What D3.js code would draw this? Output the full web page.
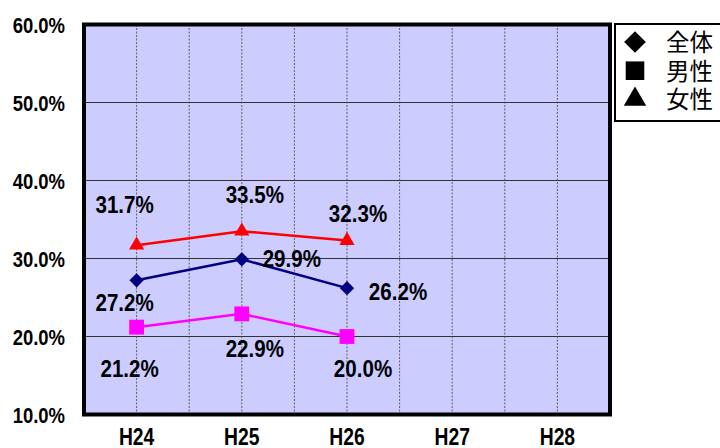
<!DOCTYPE html>
<html>
<head>
<meta charset="utf-8">
<script src="https://cdn.jsdelivr.net/npm/d3@7"></script>
<style>
  body { margin: 0; background: #ffffff; }
  svg { display: block; }
</style>
</head>
<body>
<div id="chart"></div>
<script>
// Data
const years = ["H24", "H25", "H26", "H27", "H28"];
const yTicks = [10, 20, 30, 40, 50, 60];
const totalValues = [27.2, 29.9, 26.2];
const maleValues = [21.2, 22.9, 20.0];
const femaleValues = [31.7, 33.5, 32.3];
const legendLabels = ["全体", "男性", "女性"];

// Label placement relative to each point (layout only)
const totalLabelOffsets = [[-12, 31], [50, 8], [51, 12]];
const maleLabelOffsets = [[-7, 50], [13, 43], [16, 40]];
const femaleLabelOffsets = [[-12, -32], [13, -28], [11, -19]];

const W = 720, H = 448;
const plot = {left: 84, right: 610, top: 24.5, bottom: 414.5};
const labelFont = "'Liberation Sans', Arial, sans-serif";
const squeeze = 0.84;

const svg = d3.select("#chart")
    .append("svg")
    .attr("width", W)
    .attr("height", H);

// Scales
const x = d3.scaleBand()
    .domain(years)
    .range([plot.left, plot.right]);
const y = d3.scaleLinear()
    .domain([10, 60])
    .range([plot.bottom, plot.top]);
const cx = d => x(d) + x.bandwidth() / 2;

// Plot background
svg.append("rect")
    .attr("x", plot.left)
    .attr("y", plot.top)
    .attr("width", plot.right - plot.left)
    .attr("height", plot.bottom - plot.top)
    .attr("fill", "#ccccff");

// Horizontal grid lines
svg.append("g")
    .selectAll("line")
    .data(yTicks.slice(1, -1))
    .enter()
    .append("line")
    .attr("x1", plot.left)
    .attr("x2", plot.right)
    .attr("y1", d => y(d))
    .attr("y2", d => y(d))
    .attr("stroke", "#333333")
    .attr("stroke-width", 1);

// Vertical dashed grid lines at band centres and band edges
const vLines = [];
years.forEach((d, i) => {
    vLines.push(cx(d));
    if (i > 0) vLines.push(x(d));
});
svg.append("g")
    .selectAll("line")
    .data(vLines)
    .enter()
    .append("line")
    .attr("x1", d => d)
    .attr("x2", d => d)
    .attr("y1", plot.top)
    .attr("y2", plot.bottom)
    .attr("stroke", "#444444")
    .attr("stroke-width", 0.8)
    .attr("stroke-dasharray", "2,1.5");

// Plot border
svg.append("rect")
    .attr("x", plot.left)
    .attr("y", plot.top)
    .attr("width", plot.right - plot.left)
    .attr("height", plot.bottom - plot.top)
    .attr("fill", "none")
    .attr("stroke", "#000000")
    .attr("stroke-width", 4);

// Y axis labels
svg.append("g")
    .selectAll("text")
    .data(yTicks)
    .enter()
    .append("text")
    .attr("transform", d => "translate(65," + (y(d) + 8) + ") scale(" + squeeze + ",1)")
    .attr("text-anchor", "end")
    .style("font-family", labelFont)
    .style("font-weight", "bold")
    .style("font-size", "22px")
    .text(d => d.toFixed(1) + "%");

// X axis labels
svg.append("g")
    .selectAll("text")
    .data(years)
    .enter()
    .append("text")
    .attr("transform", d => "translate(" + cx(d) + ",445) scale(" + squeeze + ",1)")
    .attr("text-anchor", "middle")
    .style("font-family", labelFont)
    .style("font-weight", "bold")
    .style("font-size", "23px")
    .text(d => d);

// Series
const series = [
    {values: totalValues, color: "#000080", symbol: d3.symbolDiamond2, size: 130, offsets: totalLabelOffsets},
    {values: maleValues, color: "#ff00ff", symbol: d3.symbolSquare2, size: 280, offsets: maleLabelOffsets},
    {values: femaleValues, color: "#ff0000", symbol: d3.symbolTriangle2, size: 165, offsets: femaleLabelOffsets}
];

const line = d3.line()
    .x((d, i) => cx(years[i]))
    .y(d => y(d));

series.forEach(s => {
    svg.append("path")
        .datum(s.values)
        .attr("d", line)
        .attr("fill", "none")
        .attr("stroke", s.color)
        .attr("stroke-width", 2.5);

    svg.append("g")
        .selectAll("path")
        .data(s.values)
        .enter()
        .append("path")
        .attr("d", d3.symbol().type(s.symbol).size(s.size))
        .attr("transform", (d, i) => "translate(" + cx(years[i]) + "," + y(d) + ")")
        .attr("fill", s.color);
});

// Data labels (drawn after marks)
series.forEach(s => {
    svg.append("g")
        .selectAll("text")
        .data(s.values)
        .enter()
        .append("text")
        .attr("transform", (d, i) => "translate(" + (cx(years[i]) + s.offsets[i][0]) + ","
            + (y(d) + s.offsets[i][1]) + ") scale(" + squeeze + ",1)")
        .attr("text-anchor", "middle")
        .style("font-family", labelFont)
        .style("font-weight", "bold")
        .style("font-size", "24.5px")
        .text(d => d.toFixed(1) + "%");
});

// Legend
const legend = svg.append("g");
legend.append("rect")
    .attr("x", 615)
    .attr("y", 24)
    .attr("width", 110)
    .attr("height", 97)
    .attr("fill", "#ffffff")
    .attr("stroke", "#000000")
    .attr("stroke-width", 2);

const legendSymbols = [d3.symbolDiamond2, d3.symbolSquare2, d3.symbolTriangle2];
const legendSizes = [300, 440, 360];
legendLabels.forEach((label, i) => {
    const ly = 42 + i * 28.7;
    legend.append("path")
        .attr("d", d3.symbol().type(legendSymbols[i]).size(legendSizes[i]))
        .attr("transform", "translate(635," + ly + ")")
        .attr("fill", "#000000");
    legend.append("text")
        .attr("x", 666)
        .attr("y", ly + 9)
        .style("font-family", "'Noto Sans CJK JP', sans-serif")
        .style("font-size", "23.5px")
        .text(label);
});
</script>
</body>
</html>
